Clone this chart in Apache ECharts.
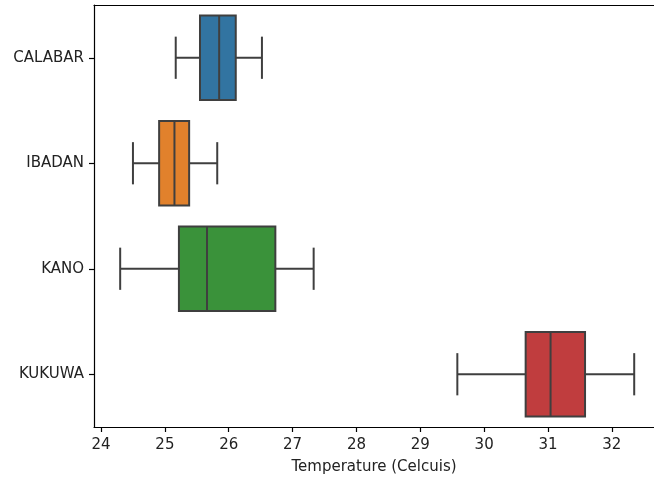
<!DOCTYPE html>
<html>
<head>
<meta charset="utf-8">
<script src="https://cdn.jsdelivr.net/npm/echarts@6/dist/echarts.min.js"></script>
<style>
  html, body { margin: 0; padding: 0; background: #fff; }
  #chart { width: 654px; height: 480px; }
</style>
</head>
<body>
<div id="chart"></div>
<script>
// cities, top to bottom
const cities = ['CALABAR', 'IBADAN', 'KANO', 'KUKUWA']
// box stats (deg C)
const whiskerLow = [25.17, 24.50, 24.30, 29.58]
const q1 = [25.55, 24.91, 25.22, 30.65]
const median = [25.85, 25.15, 25.66, 31.04]
const q3 = [26.11, 25.38, 26.73, 31.58]
const whiskerHigh = [26.52, 25.82, 27.33, 32.35]
const tickValues = [24, 25, 26, 27, 28, 29, 30, 31, 32]

const fills = ['#3274a1', '#e1812c', '#3a923a', '#c03d3e']
const lineColor = '#3f3f3f'
const font = 'DejaVu Sans'

let myChart = echarts.init(document.getElementById('chart'), null, { renderer: 'canvas' })

let boxData = cities.map((c, i) => [i, whiskerLow[i], q1[i], median[i], q3[i], whiskerHigh[i]])

// seaborn-like box: half-width caps, dark gray outline
function renderBox(params, api) {
  let i = api.value(0)
  let pLow = api.coord([api.value(1), i])
  let pQ1 = api.coord([api.value(2), i])
  let pMed = api.coord([api.value(3), i])
  let pQ3 = api.coord([api.value(4), i])
  let pHigh = api.coord([api.value(5), i])
  let band = api.size([0, 1])[1]
  let h = band * 0.8
  let cap = band * 0.2
  let y = pMed[1]
  let lineStyle = { stroke: lineColor, lineWidth: 2 }
  return {
    type: 'group',
    children: [
      { type: 'line', shape: { x1: pLow[0], y1: y, x2: pQ1[0], y2: y }, style: lineStyle },
      { type: 'line', shape: { x1: pQ3[0], y1: y, x2: pHigh[0], y2: y }, style: lineStyle },
      { type: 'line', shape: { x1: pLow[0], y1: y - cap, x2: pLow[0], y2: y + cap }, style: lineStyle },
      { type: 'line', shape: { x1: pHigh[0], y1: y - cap, x2: pHigh[0], y2: y + cap }, style: lineStyle },
      {
        type: 'rect',
        shape: { x: pQ1[0], y: y - h / 2, width: pQ3[0] - pQ1[0], height: h },
        style: { fill: fills[i], stroke: lineColor, lineWidth: 2 }
      },
      { type: 'line', shape: { x1: pMed[0], y1: y - h / 2, x2: pMed[0], y2: y + h / 2 }, style: lineStyle }
    ]
  }
}

let spine = { show: true, lineStyle: { color: '#000', width: 1.2 } }

let options = {
  animation: false,
  grid: {
    left: 94,
    top: 5,
    right: 0,
    bottom: 52
  },
  xAxis: [
    {
      type: 'value',
      min: 23.89,
      max: 32.66,
      name: 'Temperature (Celcuis)',
      nameLocation: 'middle',
      nameGap: 33,
      nameTextStyle: { fontFamily: font, fontSize: 15, color: '#222' },
      axisLine: spine,
      axisTick: {
        show: true,
        customValues: tickValues,
        length: 5,
        lineStyle: { color: '#000', width: 1.2 }
      },
      axisLabel: {
        customValues: tickValues,
        margin: 11,
        fontFamily: font,
        fontSize: 15,
        color: '#222'
      },
      splitLine: { show: false }
    },
    {
      // top spine only
      type: 'value',
      position: 'top',
      min: 23.89,
      max: 32.66,
      axisLine: spine,
      axisTick: { show: false },
      axisLabel: { show: false },
      splitLine: { show: false }
    }
  ],
  yAxis: {
    type: 'category',
    data: cities,
    inverse: true,
    axisLine: spine,
    axisTick: {
      show: true,
      alignWithLabel: true,
      length: 5,
      lineStyle: { color: '#000', width: 1.2 }
    },
    axisLabel: {
      margin: 10,
      fontFamily: font,
      fontSize: 15,
      color: '#222'
    },
    splitLine: { show: false }
  },
  series: [
    {
      type: 'custom',
      renderItem: renderBox,
      xAxisIndex: 0,
      encode: { x: [1, 2, 3, 4, 5], y: 0 },
      data: boxData
    }
  ]
}
myChart.setOption(options)
</script>
</body>
</html>
